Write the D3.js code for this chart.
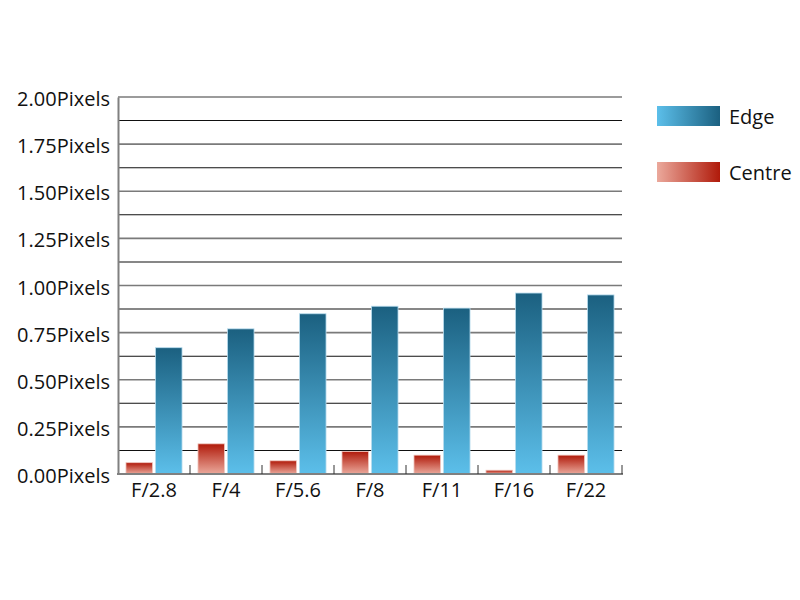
<!DOCTYPE html>
<html><head><meta charset="utf-8">
<script src="https://cdn.jsdelivr.net/npm/d3@7"></script>
<style>body{margin:0;background:#fff}svg{display:block}</style>
</head><body>
<svg id="c" width="800" height="600"></svg>
<script>
const categories = ["F/2.8","F/4","F/5.6","F/8","F/11","F/16","F/22"];
const centreValues = [0.06,0.16,0.07,0.12,0.10,0.02,0.10];
const edgeValues = [0.67,0.77,0.85,0.89,0.88,0.96,0.95];
const seriesNames = ["Centre","Edge"];
const yTicks = [0,0.25,0.5,0.75,1,1.25,1.5,1.75,2];
const gridValues = d3.range(0, 2.0001, 0.125);

const svg = d3.select("#c");
const font = "'Open Sans', sans-serif";
const x0 = d3.scaleBand().domain(categories).range([118,622]).paddingInner(0).paddingOuter(0);
const y = d3.scaleLinear().domain([0,2]).range([474,97]);

const defs = svg.append("defs");
function grad(id, x1,y1,x2,y2, c1, c2){
  const g = defs.append("linearGradient").attr("id",id).attr("x1",x1).attr("y1",y1).attr("x2",x2).attr("y2",y2);
  g.append("stop").attr("offset","0%").attr("stop-color",c1);
  g.append("stop").attr("offset","100%").attr("stop-color",c2);
}
grad("edgeV","0","0","0","1","#1b6080","#5cbfea");
grad("centreV","0","0","0","1","#b01a0a","#eba99c");
grad("edgeH","0","0","1","0","#5cbfea","#1b6080");
grad("centreH","0","0","1","0","#eba99c","#b01a0a");

// gridlines
svg.append("g").selectAll("line").data(gridValues.filter(v=>v>0)).join("line")
  .attr("x1",118).attr("x2",622).attr("y1",d=>y(d)).attr("y2",d=>y(d))
  .attr("stroke",(d,i)=> (Math.round(d*8)%2===0) ? "#7a7a7a" : "#111").attr("stroke-width",(d)=> (Math.round(d*8)%2===0)?1.6:1.1);

// y axis
const yAxis = d3.axisLeft(y).tickValues(yTicks).tickSize(0).tickPadding(8)
  .tickFormat(d=>d3.format(".2f")(d)+"Pixels");
const ga = svg.append("g").attr("transform","translate(118,0)").call(yAxis);
ga.select(".domain").attr("stroke","#808080").attr("stroke-width",2);
ga.selectAll("text").attr("font-family",font).attr("font-size",20).attr("fill","#111").attr("dy","8.5px");

// bars
const x1 = d3.scaleBand().domain(seriesNames).range([0,x0.bandwidth()]).paddingInner(0.102).paddingOuter(0.27);
const groups = svg.append("g").selectAll("g").data(categories).join("g")
  .attr("transform",d=>`translate(${x0(d)},0)`);
groups.append("rect").attr("x",x1("Centre")).attr("width",x1.bandwidth())
  .attr("y",(d,i)=>y(centreValues[i])).attr("height",(d,i)=>y(0)-y(centreValues[i]))
  .attr("fill","url(#centreV)").attr("stroke","#f0c8c0").attr("stroke-width",0.8);
groups.append("rect").attr("x",x1("Edge")).attr("width",x1.bandwidth())
  .attr("y",(d,i)=>y(edgeValues[i])).attr("height",(d,i)=>y(0)-y(edgeValues[i]))
  .attr("fill","url(#edgeV)").attr("stroke","#b8dcee").attr("stroke-width",0.8);

// x axis
svg.append("line").attr("x1",117).attr("x2",623).attr("y1",474).attr("y2",474).attr("stroke","#808080").attr("stroke-width",2);
svg.append("g").selectAll("line").data(categories).join("line")
  .attr("x1",d=>x0(d)+x0.bandwidth()).attr("x2",d=>x0(d)+x0.bandwidth())
  .attr("y1",474).attr("y2",465).attr("stroke","#333").attr("stroke-width",1);
svg.append("g").selectAll("text").data(categories).join("text")
  .attr("x",d=>x0(d)+x0.bandwidth()/2).attr("y",497)
  .attr("text-anchor","middle").attr("font-family",font).attr("font-size",20).attr("fill","#111")
  .text(d=>d);

// legend
const legendItems = [{name:"Edge",fill:"url(#edgeH)",y:106},{name:"Centre",fill:"url(#centreH)",y:162}];
const lg = svg.append("g").selectAll("g").data(legendItems).join("g");
lg.append("rect").attr("x",657).attr("y",d=>d.y).attr("width",63).attr("height",20).attr("fill",d=>d.fill);
lg.append("text").attr("x",729).attr("y",d=>d.y+18)
  .attr("font-family",font).attr("font-size",20).attr("fill","#111").text(d=>d.name);
</script>
</body></html>
